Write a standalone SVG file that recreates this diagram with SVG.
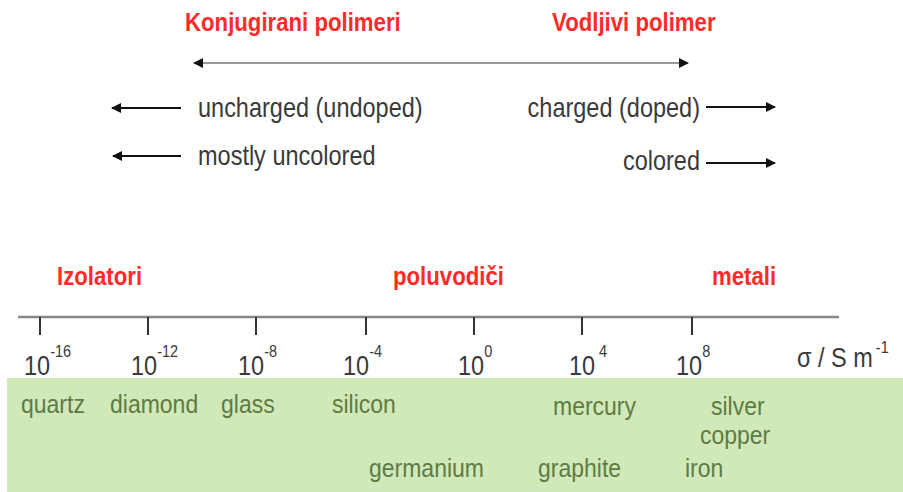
<svg xmlns="http://www.w3.org/2000/svg" width="903" height="492" viewBox="0 0 903 492">
<style>
.t{font-family:"Liberation Sans",Arial,sans-serif;font-size:23.5px;fill:#3a3a3a}
.r{font-family:"Liberation Sans",Arial,sans-serif;font-size:22.2px;font-weight:bold;fill:#ff2a2a}
.g{font-family:"Liberation Sans",Arial,sans-serif;font-size:23px;fill:#5e7b45}
.s{font-size:14.5px}
.ar{stroke:#111;stroke-width:2.2;fill:none}
.tk{stroke:#333;stroke-width:2}
</style>
<defs>
<marker id="ah" viewBox="0 0 10 10" refX="9" refY="5" markerWidth="11" markerHeight="10" markerUnits="userSpaceOnUse" orient="auto-start-reverse">
<path d="M0,0 L10,5 L0,10 z" fill="#111"/>
</marker>
</defs>
<rect x="0" y="0" width="903" height="492" fill="#fff"/>
<rect id="band" x="7" y="378" width="896" height="114" fill="#d1e9b9"/>

<g id="connectors">
<line x1="194" y1="63" x2="688" y2="63" stroke="#777" stroke-width="1.6" marker-start="url(#ah)" marker-end="url(#ah)"/>
<line class="ar" x1="181" y1="108" x2="112" y2="108" marker-end="url(#ah)"/>
<line class="ar" x1="181" y1="156" x2="113" y2="156" marker-end="url(#ah)"/>
<line class="ar" x1="706" y1="107" x2="775" y2="107" marker-end="url(#ah)"/>
<line class="ar" x1="706" y1="163" x2="775" y2="163" marker-end="url(#ah)"/>
</g>

<g id="top-labels">
<text class="r" transform="translate(185,31) scale(1,1.18)">Konjugirani polimeri</text>
<text class="r" transform="translate(552,31) scale(1,1.18)">Vodljivi polimer</text>
<text class="t" transform="translate(198,117) scale(1,1.15)">uncharged (undoped)</text>
<text class="t" transform="translate(198,165) scale(1,1.15)">mostly uncolored</text>
<text class="t" text-anchor="end" transform="translate(700,117) scale(1,1.15)">charged (doped)</text>
<text class="t" text-anchor="end" transform="translate(700,170) scale(1,1.15)">colored</text>
</g>

<g id="classes">
<text class="r" transform="translate(57,285) scale(1,1.18)">Izolatori</text>
<text class="r" transform="translate(393,285) scale(1,1.18)">poluvodiči</text>
<text class="r" transform="translate(712,285) scale(1,1.18)">metali</text>
</g>

<g id="axis">
<line x1="18" y1="317" x2="839" y2="317" stroke="#888" stroke-width="2.5"/>
<line class="tk" x1="40" y1="317" x2="40" y2="335"/>
<line class="tk" x1="148" y1="317" x2="148" y2="335" stroke="#777"/>
<line class="tk" x1="256" y1="317" x2="256" y2="335"/>
<line class="tk" x1="366" y1="317" x2="366" y2="335" stroke="#777"/>
<line class="tk" x1="474" y1="317" x2="474" y2="335"/>
<line class="tk" x1="582" y1="317" x2="582" y2="335" stroke="#777"/>
<line class="tk" x1="692" y1="317" x2="692" y2="335"/>
</g>

<g id="scale-labels">
<text class="t" transform="translate(24,375) scale(1,1.18)">10<tspan class="s" dy="-15">-16</tspan></text>
<text class="t" transform="translate(131,375) scale(1,1.18)">10<tspan class="s" dy="-15">-12</tspan></text>
<text class="t" transform="translate(238,375) scale(1,1.18)">10<tspan class="s" dy="-15">-8</tspan></text>
<text class="t" transform="translate(343,375) scale(1,1.18)">10<tspan class="s" dy="-15">-4</tspan></text>
<text class="t" transform="translate(458,375) scale(1,1.18)">10<tspan class="s" dy="-15">0</tspan></text>
<text class="t" transform="translate(569,375) scale(1,1.18)">10<tspan class="s" dx="4" dy="-15">4</tspan></text>
<text class="t" transform="translate(676,375) scale(1,1.18)">10<tspan class="s" dy="-15">8</tspan></text>
<text class="t" transform="translate(797,367) scale(1,1.18)">σ / S m<tspan class="s" dx="3" dy="-12">-1</tspan></text>
</g>

<g id="materials">
<text class="g" transform="translate(21,413) scale(1,1.15)">quartz</text>
<text class="g" transform="translate(110,413) scale(1,1.15)">diamond</text>
<text class="g" transform="translate(221,413) scale(1,1.15)">glass</text>
<text class="g" transform="translate(332,413) scale(1,1.15)">silicon</text>
<text class="g" transform="translate(553,415) scale(1,1.15)">mercury</text>
<text class="g" transform="translate(711,415) scale(1,1.15)">silver</text>
<text class="g" transform="translate(700,444) scale(1,1.15)">copper</text>
<text class="g" transform="translate(369,477) scale(1,1.15)">germanium</text>
<text class="g" transform="translate(538,477) scale(1,1.15)">graphite</text>
<text class="g" transform="translate(685,477) scale(1,1.15)">iron</text>
</g>
</svg>
